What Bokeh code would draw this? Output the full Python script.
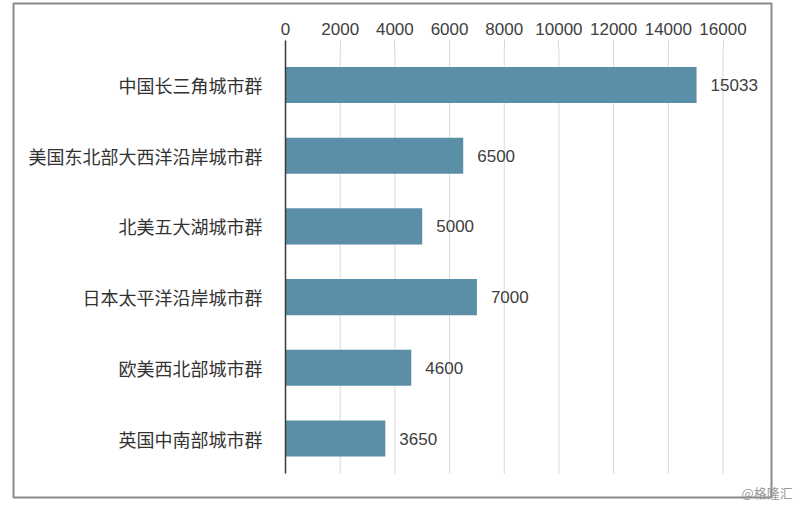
from bokeh.plotting import figure
from bokeh.models import Range1d, FixedTicker, ColumnDataSource, Label, BoxAnnotation
from bokeh.core.properties import value
from bokeh.embed import file_html
from bokeh.resources import INLINE

categories = ["中国长三角城市群", "美国东北部大西洋沿岸城市群", "北美五大湖城市群",
              "日本太平洋沿岸城市群", "欧美西北部城市群", "英国中南部城市群"]
values = [15033, 6500, 5000, 7000, 4600, 3650]
x_ticks = [0, 2000, 4000, 6000, 8000, 10000, 12000, 14000, 16000]
watermark = "@格隆汇"

BAR = "#5b8fa8"
TXT = "#404040"
GRID = "#d9d9d9"
CJK = "Noto Sans CJK SC"
LAT = "Liberation Sans"

n = len(categories)
ypos = [n - i - 0.5 for i in range(n)]          # top category first
src = ColumnDataSource(dict(y=ypos, val=values, lab=[str(v) for v in values]))
grid_src = ColumnDataSource(dict(x=x_ticks[1:]))

# --- pixel geometry (layout only) ---
W, H = 803, 505
PX0 = 285.0                       # screen x of value 0
PXU = 437.5 / 16000               # px per unit
ROW = 70.7                        # px per category row
ROW_TOP = 49.15                   # screen y of top of category area
FL, FT = 11, 1                    # frame left / top (px)


def xd(px):
    return (px - PX0) / PXU


def yd(py):
    return n - (py - ROW_TOP) / ROW


p = figure(width=W, height=H, output_backend="svg", toolbar_location=None,
           x_range=Range1d(xd(FL), xd(W)), y_range=Range1d(yd(H), yd(FT)),
           x_axis_location="above",
           min_border_left=FL, min_border_right=0, min_border_top=FT, min_border_bottom=0)
p.outline_line_color = None
p.background_fill_color = "white"
p.border_fill_color = "white"
p.xgrid.visible = False
p.ygrid.visible = False

p.segment(x0="x", x1="x", y0=0, y1=n, source=grid_src, line_color=GRID, line_width=1)
p.hbar(y="y", right="val", left=0, height=0.51, source=src, fill_color=BAR, line_color=None)
p.text(x="val", y="y", text="lab", source=src, x_offset=14, text_baseline="middle",
       text_align="left", text_font=value(LAT), text_font_size="17px", text_color=TXT)

xa = p.xaxis[0]
xa.fixed_location = n
xa.bounds = (0, 16000)
xa.ticker = FixedTicker(ticks=x_ticks)
xa.axis_line_color = None
xa.major_tick_line_color = GRID
xa.major_tick_out = 10
xa.major_tick_in = 0
xa.minor_tick_line_color = None
xa.major_label_standoff = 5
xa.major_label_text_font = LAT
xa.major_label_text_font_size = "17px"
xa.major_label_text_color = TXT

ya = p.yaxis[0]
ya.fixed_location = 0
ya.bounds = (0, n + 0.13)
ya.ticker = FixedTicker(ticks=ypos)
ya.major_label_overrides = {y: c for y, c in zip(ypos, categories)}
ya.axis_line_color = "#3a3a3a"
ya.axis_line_width = 1.5
ya.major_tick_line_color = None
ya.minor_tick_line_color = None
ya.major_label_standoff = 17
ya.major_label_text_font = CJK
ya.major_label_text_font_size = "18px"
ya.major_label_text_color = "#333333"

# outer chart border
p.add_layout(BoxAnnotation(left=xd(13), right=xd(771), top=yd(3), bottom=yd(497),
                           fill_color=None, fill_alpha=0, line_color="#8a8a8a",
                           line_alpha=1.0, line_width=2, level="underlay"))

p.add_layout(Label(x=xd(741), y=yd(492), text=watermark,
                   text_font=CJK, text_font_size="13px", text_color="#9a9a9a",
                   text_baseline="middle"))

open("out.html", "w").write(file_html(p, INLINE))
